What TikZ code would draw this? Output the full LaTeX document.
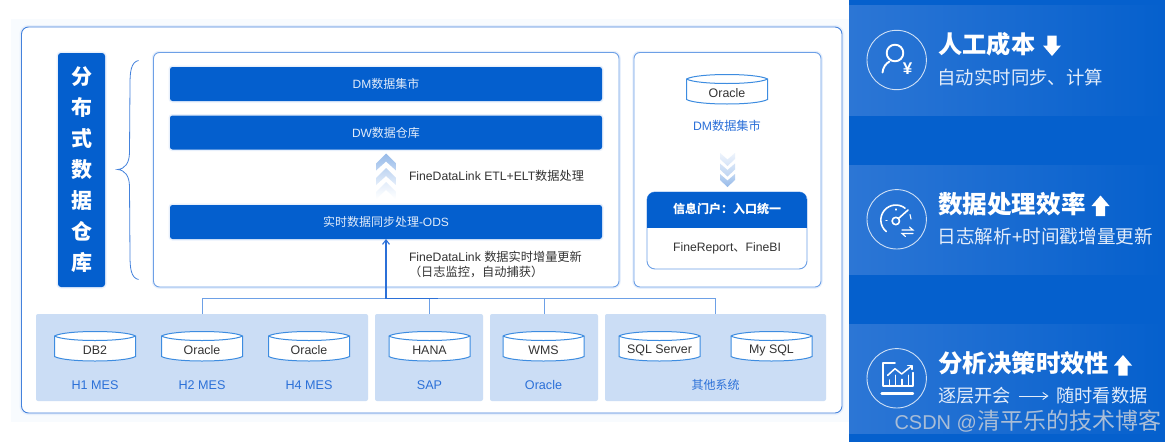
\documentclass[tikz,border=0pt]{standalone}
\usepackage{fontspec}
\setmainfont{Liberation Sans}
\newfontfamily\cjkfam{Noto Sans CJK SC}
\newcommand{\cj}[1]{{\cjkfam #1}}
\newcommand{\fs}[1]{\fontsize{#1}{#1}\selectfont}
\usetikzlibrary{arrows.meta,calc}
\definecolor{panelblue}{HTML}{0560CD}
\definecolor{bandleft}{HTML}{2C76D5}
\definecolor{barblue}{HTML}{045FCE}
\definecolor{framecol}{HTML}{4482DC}
\definecolor{innercol}{HTML}{6DA0E6}
\definecolor{groupfill}{HTML}{CBDDF5}
\definecolor{labelblue}{HTML}{2B70D8}
\definecolor{cylcol}{HTML}{3D8CE0}
\definecolor{halo}{HTML}{E8F0FC}
\definecolor{tint}{HTML}{F8FBFE}
\definecolor{inkdark}{HTML}{333333}
\definecolor{subwhite}{HTML}{E2ECFA}
\definecolor{markgrey}{HTML}{A9BDD7}
\definecolor{fadea}{HTML}{96BAE9}
\definecolor{fadeb}{HTML}{BFD5F2}
\definecolor{fadec}{HTML}{E3EDFA}
\definecolor{faded}{HTML}{D6E4F7}
\definecolor{fadee}{HTML}{EDF3FC}
\tikzset{
  every node/.style={inner sep=0pt,outer sep=0pt},
  framebox/.style={draw=framecol,line width=.9pt,fill=white,rounded corners=7pt,preaction={draw=halo,line width=4pt}},
  innerbox/.style={draw=innercol,line width=.9pt,fill=white,rounded corners=6pt,preaction={draw=halo,line width=3.5pt}},
  barbox/.style={fill=barblue,rounded corners=2.5pt,text=subwhite,font=\fs{12},preaction={draw=halo,line width=3pt}},
  groupbox/.style={fill=groupfill,rounded corners=2pt},
  cyl/.style={draw=cylcol,line width=1pt,fill=white},
  cyltext/.style={text=inkdark,font=\fs{12.4}},
  grouplabel/.style={text=labelblue,font=\fs{12.6}},
  bodytext/.style={text=inkdark,font=\fs{12.2},anchor=west},
  bus/.style={draw=innercol,line width=.9pt},
  feed/.style={draw=labelblue,line width=1.1pt},
  band/.style={left color=bandleft,right color=panelblue},
  title/.style={text=white,anchor=west,font=\bfseries},
  subtitle/.style={text=subwhite,anchor=west},
  ring/.style={draw=white,draw opacity=.78,line width=.9pt},
  iconline/.style={draw=white,line width=1.9pt,line cap=round,line join=round},
  iconthin/.style={draw=white,line width=1.1pt,line cap=round},
}
\newcommand{\dbcyl}[3]{%
  \path[cyl] (#2-40.5,336) -- (#2-40.5,356.5) .. controls (#2-30,362.5) and (#2+30,362.5) .. (#2+40.5,356.5) -- (#2+40.5,336) .. controls (#2+30,330) and (#2-30,330) .. (#2-40.5,336) -- cycle;
  \draw[cyl,fill=none] (#2-40.5,336) .. controls (#2-30,342) and (#2+30,342) .. (#2+40.5,336);
  \node[cyltext] (#1) at (#2,350.5) {#3};
}
\newcommand{\chevup}[3]{% y-top, top colour, bottom colour
  \shade[top color=#2,bottom color=#3] (386,#1) -- (396,#1+10) -- (396,#1+17) -- (386,#1+8) -- (376,#1+17) -- (376,#1+10) -- cycle;
}
\newcommand{\chevdn}[3]{% y-bottom
  \shade[top color=#2,bottom color=#3] (727.5,#1) -- (735,#1-7) -- (735,#1-13) -- (727.5,#1-6.5) -- (720,#1-13) -- (720,#1-7) -- cycle;
}
\newcommand{\blockarrow}[3]{% x-centre, y-tip, direction
  \fill[white] (#1,#2) -- (#1+9,#2+#3*10.5) -- (#1+4.7,#2+#3*10.5) -- (#1+4.7,#2+#3*20.5) -- (#1-4.7,#2+#3*20.5) -- (#1-4.7,#2+#3*10.5) -- (#1-9,#2+#3*10.5) -- cycle;
}
\begin{document}
\begin{tikzpicture}[x=1pt,y=-1pt]
\useasboundingbox (0,0) rectangle (1165,442);
\fill[white] (0,0) rectangle (1165,442);
\fill[tint] (11,19) rectangle (850,422);
% right panel
\fill[panelblue] (849,0) rectangle (1165,442);
\shade[band] (849,5) rectangle (1165,115);
\shade[band] (849,165) rectangle (1165,274);
\shade[band] (849,324) rectangle (1165,433);
% outer frame
\path[framebox] (21.5,27) rectangle (842,413);
% left title
\node[fill=barblue,rounded corners=3pt,minimum width=47pt,minimum height=234pt,preaction={draw=halo,line width=3pt}] (titlebox) at (81.5,170) {};
\node[text=white,align=center,font=\cjkfam\bfseries\fontsize{21}{31}\selectfont] (titletext) at (81.5,170) {分\\布\\式\\数\\据\\仓\\库};
% brace
\draw[framecol,line width=.8pt] (138.5,60.5) .. controls (131,62) and (130,72) .. (130,84) -- (129.5,152) .. controls (129.5,163) and (125,169) .. (117.5,169.5) .. controls (125,170) and (129.5,176) .. (129.5,187) -- (130,256) .. controls (130,268) and (131,278) .. (138.5,279.5);
% main box
\node[innerbox,minimum width=465.5pt,minimum height=234.5pt] (mainbox) at (386.25,169.75) {};
\node[barbox,minimum width=432pt,minimum height=34pt] (dm) at (386,84) {DM\cj{数据集市}};
\node[barbox,minimum width=432pt,minimum height=34pt] (dw) at (386,132.5) {DW\cj{数据仓库}};
\node[barbox,minimum width=432pt,minimum height=34pt] (ods) at (386,222) {\cj{实时数据同步处理}-ODS};
\chevup{182}{fadec}{white}
\chevup{168}{fadeb}{fadec}
\chevup{153.5}{fadea}{fadeb}
\node[bodytext] (etl) at (409,176) {FineDataLink ETL+ELT\cj{数据处理}};
\node[bodytext] (inc) at (409,257) {FineDataLink \cj{数据实时增量更新}};
\node[bodytext] (log) at (409,272) {\cj{（日志监控，自动捕获）}};
% right box
\node[innerbox,minimum width=187pt,minimum height=234.5pt] (rightbox) at (727.5,169.75) {};
\begin{scope}[yshift=257pt]
\dbcyl{dmdb}{727}{Oracle}
\end{scope}
\node[grouplabel,font=\fs{12.2}] (dmlabel) at (727,126) {DM\cj{数据集市}};
\chevdn{166}{fadee}{faded}
\chevdn{176.5}{faded}{fadeb}
\chevdn{187}{fadeb}{fadea}
% portal
\node[draw=innercol,line width=.9pt,fill=white,rounded corners=8pt,minimum width=160pt,minimum height=77pt] (portal) at (727,230.5) {};
\begin{scope}
\clip[rounded corners=8pt] (portal.south west) rectangle (portal.north east);
\fill[barblue] (portal.north west) rectangle ($(portal.north east)+(0,-36pt)$);
\end{scope}
\node[text=white,font=\cjkfam\bfseries\fs{12}] (porttitle) at (727,209) {信息门户：入口统一};
\node[text=inkdark,font=\fs{12.2}] (portbody) at (727,248) {FineReport\cj{、}FineBI};
% source groups
\node[groupbox,minimum width=332pt,minimum height=87pt] (g1) at (202,357.5) {};
\node[groupbox,minimum width=108pt,minimum height=87pt] (g2) at (429,357.5) {};
\node[groupbox,minimum width=108pt,minimum height=87pt] (g3) at (544,357.5) {};
\node[groupbox,minimum width=221pt,minimum height=87pt] (g4) at (715.5,357.5) {};
\dbcyl{c1}{95}{DB2}
\dbcyl{c2}{202}{Oracle}
\dbcyl{c3}{309}{Oracle}
\dbcyl{c4}{429.5}{HANA}
\dbcyl{c5}{543.5}{WMS}
\dbcyl{c6}{659.5}{SQL Server}
\dbcyl{c7}{771.5}{My SQL}
\node[grouplabel] (l1) at (95,385) {H1 MES};
\node[grouplabel] (l2) at (202,385) {H2 MES};
\node[grouplabel] (l3) at (309,385) {H4 MES};
\node[grouplabel] (l4) at (429.5,385) {SAP};
\node[grouplabel] (l5) at (543.5,385) {Oracle};
\node[grouplabel,font=\cjkfam\fs{12}] (l6) at (715.5,385) {其他系统};
% connectors
\coordinate (busy) at (0,298.5);
\coordinate (busmid) at (ods.south |- busy);
\draw[bus] (g1.north) -- (g1.north |- busy) -- (g4.north |- busy) -- (g4.north);
\draw[bus] (g2.north) -- (g2.north |- busy);
\draw[bus] (g3.north) -- (g3.north |- busy);
\draw[feed,line width=.9pt] (busmid) -- ++(52,0);
\draw[feed,-{Straight Barb[length=4.5pt,width=7pt]}] (busmid) -- (ods.south);
% panel band 1
\draw[ring] (896.7,60) circle (29.7);
\draw[iconline] (895,53) circle (8.3);
\draw[iconline] (882.5,72.5) .. controls (883,67) and (886,63.5) .. (889.5,61.5);
\node[text=white,font=\bfseries\fs{17}] (yen) at (907.5,69) {¥};
\node[title,font=\cjkfam\bfseries\fs{24.2}] (t1) at (938.5,44) {人工成本};
\blockarrow{1052}{56}{-1}
\node[subtitle,font=\cjkfam\fs{18.4}] (s1) at (937.5,77.5) {自动实时同步、计算};
% panel band 2
\draw[ring] (896.7,219.3) circle (29.7);
\draw[iconline,line width=1.6pt] (886.2,231.5) arc[start angle=130,end angle=308,radius=15];
\draw[iconline,line width=1.6pt] (895.8,221) circle (3.7);
\draw[iconline,line width=1.6pt] (898.5,218.5) -- (908,210);
\draw[iconthin] (896,209) -- (896,210);
\draw[iconthin] (886,220.5) -- (887,220.5);
\draw[iconthin] (910,214.5) -- (911,219);
\draw[iconthin] (902,230) -- (913,230) -- (909.5,227);
\draw[iconthin] (913,233.5) -- (902,233.5) -- (905.5,236.5);
\node[title,font=\cjkfam\bfseries\fs{24.6}] (t2) at (938,204) {数据处理效率};
\blockarrow{1100.5}{195.5}{1}
\node[subtitle,font=\fs{18.6}] (s2) at (937.5,236.5) {\cj{日志解析}+\cj{时间戳增量更新}};
% panel band 3
\draw[ring] (896.7,378.3) circle (29.7);
\begin{scope}[shift={(845,300)},x=.3333pt,y=-.3333pt]
\draw[iconline,line width=1.7pt] (150,190) -- (113,190) -- (113,258) -- (204,258) -- (204,218);
\draw[iconline,line width=2.4pt] (110,280) -- (204,280);
\draw[iconline,line width=1.5pt] (128,226) -- (150,206) -- (170,222) -- (200,198);
\draw[iconline,line width=1.5pt] (188,197) -- (201,197) -- (201,208);
\draw[iconline,line width=1.5pt] (133,240) -- (133,256);
\draw[iconline,line width=1.5pt] (152,226) -- (152,256);
\draw[iconline,line width=1.5pt] (171,238) -- (171,256);
\draw[iconline,line width=1.5pt] (190,226) -- (190,256);
\end{scope}
\node[title,font=\cjkfam\bfseries\fs{24.4}] (t3) at (938.5,363) {分析决策时效性};
\blockarrow{1123}{355}{1}
\node[subtitle,font=\cjkfam\fs{18.2}] (s3a) at (938,396) {逐层开会};
\node[subtitle,font=\cjkfam\fs{18.2}] (s3b) at (1056.5,396) {随时看数据};
\draw[subwhite,line width=.9pt,-{Straight Barb[length=5pt,width=7pt]},shorten <=8pt,shorten >=8pt] (s3a.east) -- (s3b.west);
% watermark
\node[text=markgrey,anchor=west] (mark) at (894.5,421) {\fs{20}CSDN @\cjkfam\fs{23}清平乐的技术博客};
\end{tikzpicture}
\end{document}
